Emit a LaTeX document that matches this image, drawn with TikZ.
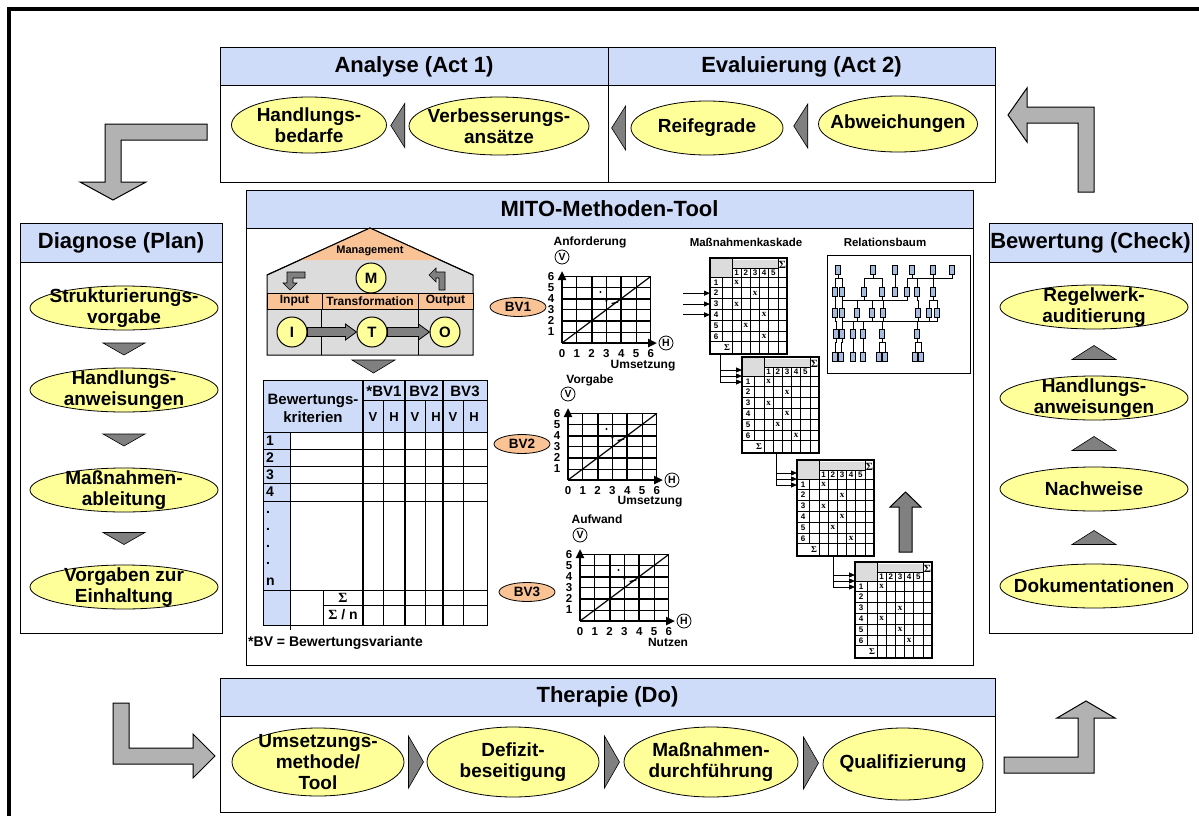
\documentclass[tikz,border=0pt]{standalone}
\usepackage{fontspec}
\setmainfont{Liberation Sans}
\newfontfamily\serf{Liberation Serif}
\usetikzlibrary{shapes.geometric}
\usetikzlibrary{calc}
\usetikzlibrary{arrows.meta}

\definecolor{hdrblue}{RGB}{206,220,250}
\definecolor{ovalyellow}{RGB}{255,255,153}
\definecolor{salmon}{RGB}{250,195,150}
\definecolor{housegray}{RGB}{220,220,220}
\definecolor{arrowgray}{RGB}{178,178,178}
\definecolor{trigray}{RGB}{128,128,128}
\definecolor{treeblue}{RGB}{165,188,222}

\newcommand{\fsz}[2]{\fontsize{#1}{#2}\selectfont\bfseries}
\newcommand{\blkarrow}[2]{\filldraw[fill=trigray,line width=.8pt] ($(#1.east)+(0,-4.5)$) -- ($(#2.west)+(-11,-4.5)$) -- ++(0,-3.5) -- (#2.west) -- ($(#2.west)+(-11,8)$) -- ++(0,-3.5) -- ($(#1.east)+(0,4.5)$) -- cycle;}

\begin{document}
\begin{tikzpicture}[x=1pt,y=-1pt,font=\fsz{12}{14},
panel/.style={draw,fill=white,rectangle,inner sep=0pt,outer sep=0pt,line width=1pt},
hdr/.style={draw,fill=hdrblue,rectangle,inner sep=0pt,outer sep=0pt,line width=1pt,minimum height=37,font=\fsz{22}{24}},
oval/.style={draw,ellipse,fill=ovalyellow,inner xsep=-50pt,inner ysep=-30pt,align=center,line width=.8pt,minimum width=188,minimum height=44,font=\fsz{19}{21}},
bvoval/.style={draw,ellipse,fill=salmon,inner xsep=-20pt,inner ysep=-10pt,minimum width=56,minimum height=19,line width=.8pt,font=\fsz{13.5}{14}},
bigarrow/.style={draw,fill=arrowgray,line width=1pt},
tri/.style={draw,fill=trigray,line width=.6pt},
letter/.style={draw,circle,fill=ovalyellow,inner sep=0pt,minimum size=30,line width=1pt,font=\fsz{15}{16}},
rowcell/.style={draw,fill=salmon,rectangle,inner sep=0pt,minimum height=16,line width=.8pt,font=\fsz{12}{13}},
axcirc/.style={draw,circle,fill=white,inner sep=0pt,minimum size=14,line width=.8pt,font=\fsz{10.5}{11}},
ticklbl/.style={inner sep=0pt,font=\fsz{11.5}{12}},
ctitle/.style={inner sep=0pt,font=\fsz{12}{13}},
tcell/.style={inner sep=0pt,font=\fsz{15}{18},align=center},
mnum/.style={inner sep=0pt,font=\fsz{8}{9}},
msig/.style={inner sep=0pt,font=\serf\fsz{9}{10}},
feed/.style={line width=1pt,-{Triangle[length=6pt,width=5pt]}},
tbox/.style={draw,fill=treeblue,rectangle,inner sep=0pt,minimum width=5,minimum height=9,line width=.6pt},
tlink/.style={line width=.7pt},
tridn/.pic={\filldraw[tri] (-21,-6) -- (21,-6) -- (0,6) -- cycle;},
triup/.pic={\filldraw[tri] (-22,7) -- (22,7) -- (0,-7) -- cycle;},
trilt/.pic={\filldraw[tri] (7,-22) -- (7,22) -- (-7,0) -- cycle;},
trirt/.pic={\filldraw[tri] (-7,-26) -- (-7,26) -- (8,0) -- cycle;},
chart/.pic={
 \foreach \i in {1,...,6} {\draw[line width=.8pt] (\i*14.8,0) -- (\i*14.8,-66.6); \draw[line width=.8pt] (0,-\i*11.1) -- (88.8,-\i*11.1);}
 \foreach \i in {2,4} {\draw[line width=2pt] (\i*14.8,0) -- (\i*14.8,-66.6); \draw[line width=2pt] (0,-\i*11.1) -- (88.8,-\i*11.1);}
 \draw[line width=1.2pt] (0,0) -- (88.8,-66.6);
 \draw[line width=2.6pt,-{Triangle[length=9pt,width=8pt]}] (0,0) -- (0,-72);
 \draw[line width=2.6pt,-{Triangle[length=9pt,width=8pt]}] (0,0) -- (95,0);
 \fill (38.5,-51) circle (1.2pt);
 \fill (44.4,-42.2) circle (1.2pt);
 \draw[line width=1.3pt] (49.6,-39.4) -- (56.2,-41.1);
 \foreach \i in {0,...,6} \node[ticklbl] (xl\i) at (\i*14.8,10.5) {\i};
 \foreach \i in {1,...,6} \node[ticklbl] (yl\i) at (-11,-\i*11.1) {\i};
 \node[axcirc] (v) at (0,-86) {V};
 \node[axcirc] (h) at (104,0) {H};
},
pics/mtx/.style={code={
 \fill[housegray] (0,0) rectangle (22,19);
 \fill[housegray] (22,2) rectangle (68,10);
 \draw[line width=.8pt] (22,10) -- (68,10);
 \foreach \k in {0,...,6} \draw[line width=.8pt] (0,19+\k*10.8) -- (77,19+\k*10.8);
 \foreach \k in {1,...,4} \draw[line width=.8pt] (22+\k*9.2,10) -- (22+\k*9.2,96);
 \draw[line width=.8pt] (22,0) -- (22,96);
 \draw[line width=.8pt] (68,0) -- (68,96);
 \draw[line width=.8pt] (12,19) -- (12,83.8);
 \draw[line width=2.5pt] (0,0) rectangle (77,96);
 \foreach \k in {1,...,5} \node[mnum] (cl\k) at (17.4+\k*9.2,14.5) {\k};
 \foreach \rw in {1,...,6} \node[mnum] (rl\rw) at (6,13.6+\rw*10.8) {\rw};
 \foreach \rw/\cl in {#1} \node[msig] (xm\rw) at (17.4+\cl*9.2,13.6+\rw*10.8) {x};
 \node[msig] (sb) at (17,90) {Σ};
 \node[msig,font=\serf\fsz{11}{12}] (st) at (72.5,7) {Σ};
 \coordinate (bl) at (0,96);
 \coordinate (a1) at (0,13);
 \coordinate (a2) at (0,19);
 \coordinate (a3) at (0,25);
 \foreach \rw in {1,...,6} \coordinate (row\rw) at (0,13.6+\rw*10.8);
}}]

\path[use as bounding box,fill=white] (0,0) rectangle (1199,816);
\draw[line width=3.5pt] (9,816) -- (9,9) -- (1199,9);

\draw (607.5,115) node[panel,minimum width=775,minimum height=134] (top) {};
\draw (top.north west) node[hdr,anchor=north west,minimum width=388] (ana) {Analyse (Act 1)};
\draw (top.north east) node[hdr,anchor=north east,minimum width=387] (eva) {Evaluierung (Act 2)};
\draw[line width=1pt] (ana.north east) -- (ana.north east |- top.south);
\draw (309,125) node[oval,minimum width=155,minimum height=56] (hb) {Handlungs-\\bedarfe};
\draw (499,126) node[oval,minimum width=180,minimum height=58] (vb) {Verbesserungs-\\ansätze};
\draw (707,128) node[oval,minimum width=152,minimum height=54] (rf) {Reifegrade};
\draw (898,124) node[oval,minimum width=159,minimum height=56] (ab) {Abweichungen};
\path ($(hb.east)!.5!(vb.west)$) pic {trilt};
\path ($(rf.west)+(-12,0)$) pic {trilt};
\path ($(rf.east)!.5!(ab.west)$) pic {trilt};

\draw (121,428) node[panel,minimum width=202,minimum height=410] (dgbox) {};
\draw (dgbox.north) node[hdr,anchor=north,minimum width=202,minimum height=39] (dg) {Diagnose (Plan)};
\draw (124,308) node[oval] (d1) {Strukturierungs-\\vorgabe};
\draw (124,390) node[oval] (d2) {Handlungs-\\anweisungen};
\draw (124,490) node[oval] (d3) {Maßnahmen-\\ableitung};
\draw (124,587) node[oval] (d4) {Vorgaben zur\\Einhaltung};
\path ($(d1.south)!.5!(d2.north)$) pic {tridn};
\path ($(d2.south)!.5!(d3.north)$) pic {tridn};
\path ($(d3.south)!.5!(d4.north)$) pic {tridn};

\draw (1090.5,428) node[panel,minimum width=203,minimum height=410] (bwbox) {};
\draw (bwbox.north) node[hdr,anchor=north,minimum width=203,minimum height=39] (bw) {Bewertung (Check)};
\draw (1094,307) node[oval] (b1) {Regelwerk-\\auditierung};
\draw (1094,398) node[oval] (b2) {Handlungs-\\anweisungen};
\draw (1094,489) node[oval] (b3) {Nachweise};
\draw (1094,586) node[oval] (b4) {Dokumentationen};
\path ($(b1.south)!.5!(b2.north)$) pic {triup};
\path ($(b2.south)!.5!(b3.north)$) pic {triup};
\path ($(b3.south)!.5!(b4.north)$) pic {triup};

\draw (607.5,745) node[panel,minimum width=775,minimum height=134] (thbox) {};
\draw (thbox.north) node[hdr,anchor=north,minimum width=775,minimum height=38] (th) {Therapie (Do)};
\draw (318,762) node[oval,minimum width=172,minimum height=68] (t1) {Umsetzungs-\\methode/\\Tool};
\draw (513,762) node[oval,minimum width=172,minimum height=70] (t2) {Defizit-\\beseitigung};
\draw (711,762) node[oval,minimum width=174,minimum height=70] (t3) {Maßnahmen-\\durchführung};
\draw (903,764) node[oval,minimum width=160,minimum height=72] (t4) {Qualifizierung};
\path ($(t1.east)!.5!(t2.west)$) pic {trirt};
\path ($(t2.east)!.5!(t3.west)$) pic {trirt};
\path ($(t3.east)!.5!(t4.west)$) pic {trirt};

\filldraw[bigarrow] (207,124) -- (105,124) -- (105,182) -- (80,182) -- (113,200) -- (146,182) -- (121,182) -- (121,140) -- (207,140) -- cycle;
\filldraw[bigarrow] (1008,115) -- (1027,88) -- (1027,107) -- (1094,107) -- (1094,192) -- (1078,192) -- (1078,123) -- (1027,123) -- (1027,142) -- cycle;
\filldraw[bigarrow] (113,703) -- (129,703) -- (129,748) -- (193,748) -- (193,734) -- (215,756) -- (193,778) -- (193,764) -- (113,764) -- cycle;
\filldraw[bigarrow] (1004,757) -- (1078,757) -- (1078,718) -- (1057,718) -- (1086,701) -- (1115,718) -- (1094,718) -- (1094,773) -- (1004,773) -- cycle;

\draw (609.5,427.5) node[panel,minimum width=727,minimum height=475] (mitobox) {};
\draw (mitobox.north) node[hdr,anchor=north,minimum width=727,minimum height=38] (mito) {MITO-Methoden-Tool};

\filldraw[fill=housegray,line width=1pt] (267,275) -- (370,228) -- (473,275) -- (473,355) -- (267,355) -- cycle;
\fill[salmon] (300,260) -- (370,228) -- (440,260) -- cycle;
\draw[line width=1pt] (267,275) -- (370,228) -- (473,275);
\draw (370,251) node[inner sep=0pt,font=\fsz{11}{12}] (mgmt) {Management};
\draw (294.5,301) node[rowcell,minimum width=55] (inp) {Input};
\draw (370,301) node[rowcell,minimum width=96] (trf) {Transformation};
\draw (445.5,301) node[rowcell,minimum width=55] (outp) {Output};
\draw[line width=.8pt] (trf.south west) -- ++(0,46);
\draw[line width=.8pt] (trf.south east) -- ++(0,46);
\filldraw[tri] (305,272) -- (287,272) -- (287,283) -- (283,283) -- (290,290) -- (297,283) -- (293,283) -- (293,278) -- (305,278) -- cycle;
\filldraw[tri] (445,290) -- (445,272) -- (436,272) -- (436,268) -- (429,275) -- (436,282) -- (436,278) -- (439,278) -- (439,290) -- cycle;
\draw (371,278) node[letter] (M) {M};
\draw (292,332) node[letter] (I) {I};
\draw (372,332) node[letter] (T) {T};
\draw (445,332) node[letter] (O) {O};
\blkarrow{I}{T}
\blkarrow{T}{O}
\filldraw[tri] (352,360) -- (395,360) -- (373.5,373) -- cycle;

\fill[hdrblue] (263,380) rectangle (487,432);
\fill[hdrblue] (263,432) rectangle (290,625);
\draw[line width=1pt] (263,380) rectangle (487,625);
\foreach \y in {432,449,466,483,501,590} \draw[line width=1pt] (263,\y) -- (487,\y);
\draw[line width=1pt] (323,605) -- (487,605);
\draw[line width=1pt] (363,400) -- (487,400);
\draw[line width=1pt] (290,432) -- (290,630);
\draw[line width=1pt] (323,590) -- (323,625);
\foreach \x in {383,425,463} \draw[line width=1pt] (\x,400) -- (\x,625);
\foreach \x in {363,405,443} \draw[line width=2.4pt] (\x,380) -- (\x,625);
\draw (313,408) node[tcell] (krit) {Bewertungs-\\kriterien};
\draw (384,391) node[tcell] (hbv1) {*BV1};
\draw (424,391) node[tcell] (hbv2) {BV2};
\draw (465,391) node[tcell] (hbv3) {BV3};
\foreach \x [count=\i] in {373,415,453} {\draw (\x,417) node[tcell,font=\fsz{13}{14}] (v\i) {V}; \draw (\x+21,417) node[tcell,font=\fsz{13}{14}] (h\i) {H};}
\foreach \y [count=\i] in {440.5,457.5,474.5,492} \draw (266,\y) node[tcell,anchor=west,font=\fsz{14}{15}] (nr\i) {\i};
\foreach \y [count=\i] in {512,529,546,563} \draw (266,\y) node[tcell,anchor=west,font=\fsz{14}{15}] (dot\i) {.};
\draw (266,582) node[tcell,anchor=west,font=\fsz{14}{15}] (nrn) {n};
\draw (343,597.5) node[tcell,font=\serf\fsz{14}{15}] (sum) {Σ};
\draw (343,615) node[tcell,font=\fsz{14}{15}] (sumn) {{\serf Σ} / n};
\draw (248,643) node[tcell,anchor=west,font=\fsz{14}{15}] (bvnote) {*BV = Bewertungsvariante};

\draw (518,307) node[bvoval] (bv1) {BV1};
\draw (522,444) node[bvoval] (bv2) {BV2};
\draw (527,592) node[bvoval] (bv3) {BV3};
\pic (c1) at (562,343) {chart};
\pic (c2) at (568,480) {chart};
\pic (c3) at (580,621) {chart};
\draw (590,242) node[ctitle] (anf) {Anforderung};
\draw (643,366) node[ctitle] (ums1) {Umsetzung};
\draw (590,380) node[ctitle] (vorg) {Vorgabe};
\draw (650,502) node[ctitle] (ums2) {Umsetzung};
\draw (597,519) node[ctitle] (aufw) {Aufwand};
\draw (668,642) node[ctitle] (nutz) {Nutzen};

\draw (746,242) node[ctitle,font=\fsz{11.5}{12}] (mk) {Maßnahmenkaskade};
\draw (885,242) node[ctitle,font=\fsz{11.5}{12}] (rb) {Relationsbaum};
\pic (m1) at (710,258) {mtx={1/1,2/3,3/1,4/4,5/2,6/4}};
\pic (m2) at (742,357) {mtx={1/1,2/3,3/1,4/3,5/2,6/4}};
\pic (m3) at (797,460) {mtx={1/1,2/3,3/1,4/3,5/2,6/4}};
\pic (m4) at (855,562) {mtx={1/1,3/3,4/1,5/3,6/4}};
\foreach \r in {2,3,4} \draw[feed] ([xshift=-27pt]m1row\r) -- (m1row\r);
\foreach \a in {1,2,3} \draw[feed] ([xshift=10pt]m1bl) |- (m2a\a);
\foreach \a in {1,2,3} \draw[feed] ([xshift=34pt]m2bl) |- (m3a\a);
\foreach \a in {1,2,3} \draw[feed] ([xshift=36pt]m3bl) |- (m4a\a);
\filldraw[fill=trigray,line width=1pt] (899,552) -- (899,507) -- (890,507) -- (905.5,492) -- (921,507) -- (912,507) -- (912,552) -- cycle;

\draw[line width=1pt] (827,255) rectangle (970,373);
\foreach \x [count=\i] in {838,873,895,912,933,952} \node[tbox] (t0\i) at (\x,270) {};
\foreach \x [count=\i] in {835,842,864,882,895,907,917,933} \node[tbox] (t1\i) at (\x,292) {};
\foreach \x [count=\i] in {835,842,857,872,883,918,929,937} \node[tbox] (t2\i) at (\x,313) {};
\foreach \x [count=\i] in {836,842,853,863,882,917} \node[tbox] (t3\i) at (\x,334) {};
\foreach \x [count=\i] in {835,841,853,863,879,885,915,921} \node[tbox] (t4\i) at (\x,357) {};
\foreach \p/\q in {01/11,01/12,02/13,02/14,03/15,04/16,04/17,05/18,06/16,11/21,12/22,13/23,13/24,14/25,17/26,18/27,18/28,16/22,21/31,22/32,23/33,24/34,25/35,26/36,27/36,28/36,26/32,31/41,32/42,33/43,34/44,35/45,35/46,36/47,36/48}
  \draw[tlink] (t\p.south) -- ++(0,4) -| (t\q.north);
\end{tikzpicture}
\end{document}
